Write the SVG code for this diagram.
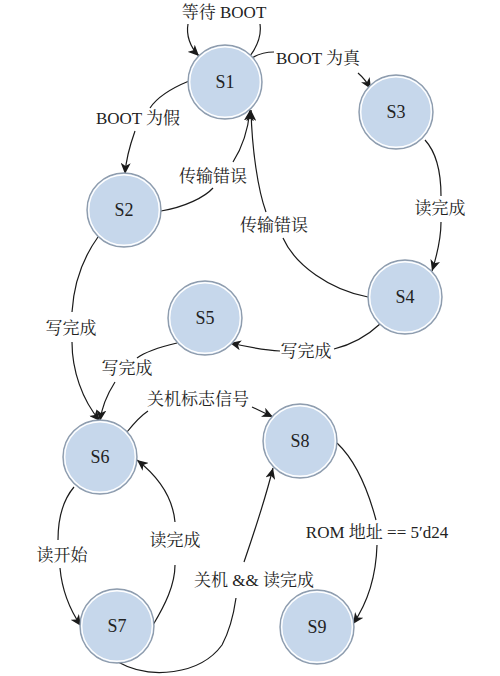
<svg xmlns="http://www.w3.org/2000/svg" width="500" height="676" viewBox="0 0 500 676">
<style>
.bg{fill:#ffffff}
.node .o{fill:#c6d7eb;stroke:#8e9cad;stroke-width:1.4}
.node .i{fill:none;stroke:#ffffff;stroke-width:1.4}
.node text{font-family:"Liberation Serif","Noto Serif CJK SC","Noto Sans CJK SC",serif;font-size:18px;fill:#222;text-anchor:middle}
.edges path{fill:none;stroke:#1a1a1a;stroke-width:1.2}
.edges path.a{marker-end:url(#arr)}
.lbl{font-family:"Liberation Serif","Noto Serif CJK SC","Noto Sans CJK SC",serif;font-size:17px;fill:#222;text-anchor:middle}
</style>
<defs>
<marker id="arr" markerUnits="userSpaceOnUse" markerWidth="12" markerHeight="10" refX="11" refY="5" orient="auto">
<path d="M0,0 L11,5 L0,10 L3,5 z" fill="#1a1a1a"/>
</marker>
</defs>
<rect class="bg" x="0" y="0" width="500" height="676"/>
<g id="edges" class="edges">
<path d="M250,56 C256,48 262,38 260,24"/>
<path class="a" d="M188,24 C186,35 190,47 199,56"/>
<path d="M252,58 C258,54 265,52 274,52"/>
<path class="a" d="M358,73 Q365,79 371,89"/>
<path d="M189,81 C172,88 158,96 150,108"/>
<path class="a" d="M135,131 C130,145 126,158 125,174"/>
<path d="M161,211 C185,207 205,197 213,188"/>
<path class="a" d="M233,162 C242,148 248,130 250,110"/>
<path d="M368,297 C330,290 295,265 283,238"/>
<path class="a" d="M266,212 C258,190 252,150 251,110"/>
<path d="M425,140 C436,152 441,170 441,196"/>
<path class="a" d="M441,222 C441,240 437,255 432,271"/>
<path d="M380,324 C365,338 350,345 334,349"/>
<path class="a" d="M280,351 C262,350 248,347 230,343"/>
<path d="M98,237 C85,255 74,280 72,312"/>
<path class="a" d="M72,342 C72,370 82,400 100,421"/>
<path d="M177,343 C160,347 145,352 137,358"/>
<path class="a" d="M115,382 C108,393 102,405 100,421"/>
<path d="M127,432 C135,422 142,415 148,411"/>
<path class="a" d="M252,407 L273,417"/>
<path d="M337,443 C355,460 368,490 376,520"/>
<path class="a" d="M377,545 C376,580 366,605 353,624"/>
<path d="M74,487 C63,500 58,520 58,540"/>
<path class="a" d="M60,568 C62,590 70,610 81,626"/>
<path d="M153,625 C165,605 175,585 175,565"/>
<path class="a" d="M175,522 C173,500 160,478 137,460"/>
<path d="M118,662 C150,680 200,675 222,645 C230,630 234,612 236,598"/>
<path class="a" d="M244,562 C255,530 265,500 273,468"/>
</g>
<g id="labels">
<text class="lbl" x="224" y="18">等待 BOOT</text>
<text class="lbl" x="318" y="64">BOOT 为真</text>
<text class="lbl" x="138" y="124">BOOT 为假</text>
<text class="lbl" x="213" y="182">传输错误</text>
<text class="lbl" x="274" y="231">传输错误</text>
<text class="lbl" x="440" y="214">读完成</text>
<text class="lbl" x="306" y="357">写完成</text>
<text class="lbl" x="71" y="334">写完成</text>
<text class="lbl" x="127" y="374">写完成</text>
<text class="lbl" x="198" y="405">关机标志信号</text>
<text class="lbl" x="377" y="538">ROM 地址 == 5′d24</text>
<text class="lbl" x="62" y="561">读开始</text>
<text class="lbl" x="175" y="546">读完成</text>
<text class="lbl" x="254" y="586">关机 &amp;&amp; 读完成</text>
</g>
<g id="S1" class="node"><circle class="o" cx="225" cy="82" r="37"/><circle class="i" cx="225" cy="82" r="35.3"/><text x="225" y="88">S1</text></g>
<g id="S2" class="node"><circle class="o" cx="124" cy="210" r="37"/><circle class="i" cx="124" cy="210" r="35.3"/><text x="124" y="216">S2</text></g>
<g id="S3" class="node"><circle class="o" cx="396" cy="112" r="37"/><circle class="i" cx="396" cy="112" r="35.3"/><text x="396" y="118">S3</text></g>
<g id="S4" class="node"><circle class="o" cx="405" cy="297" r="37"/><circle class="i" cx="405" cy="297" r="35.3"/><text x="405" y="303">S4</text></g>
<g id="S5" class="node"><circle class="o" cx="205" cy="318" r="37"/><circle class="i" cx="205" cy="318" r="35.3"/><text x="205" y="324">S5</text></g>
<g id="S6" class="node"><circle class="o" cx="100" cy="457" r="37"/><circle class="i" cx="100" cy="457" r="35.3"/><text x="100" y="463">S6</text></g>
<g id="S7" class="node"><circle class="o" cx="117" cy="626" r="37"/><circle class="i" cx="117" cy="626" r="35.3"/><text x="117" y="632">S7</text></g>
<g id="S8" class="node"><circle class="o" cx="300" cy="441" r="37"/><circle class="i" cx="300" cy="441" r="35.3"/><text x="300" y="447">S8</text></g>
<g id="S9" class="node"><circle class="o" cx="317" cy="627" r="37"/><circle class="i" cx="317" cy="627" r="35.3"/><text x="317" y="633">S9</text></g>
</svg>
